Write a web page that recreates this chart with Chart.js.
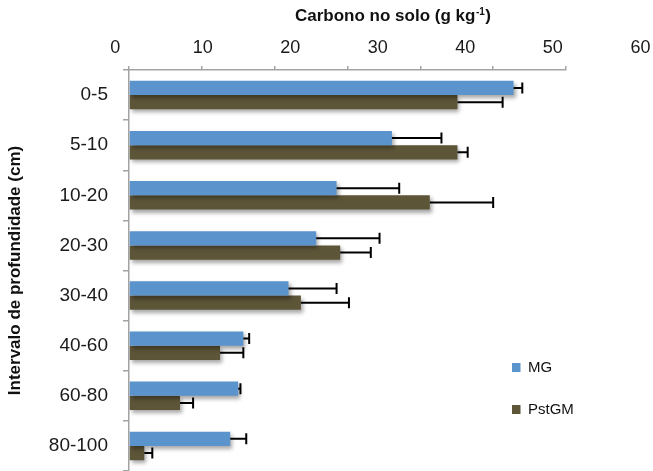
<!DOCTYPE html>
<html>
<head>
<meta charset="utf-8">
<script src="https://cdn.jsdelivr.net/npm/chart.js@4.4.0/dist/chart.umd.min.js"></script>
<style>
  html, body { margin: 0; padding: 0; background: #fff; }
  canvas { display: block; }
</style>
</head>
<body>
<canvas id="c" width="653" height="471"></canvas>
<script>
// depth intervals (cm) and soil carbon (g/kg)
var depths = ['0-5', '5-10', '10-20', '20-30', '30-40', '40-60', '60-80', '80-100'];
var mgValues = [52.8, 36.1, 28.5, 25.7, 21.9, 15.7, 15.0, 13.9];
var mgErrors = [1.2, 6.8, 8.6, 8.7, 6.6, 0.8, 0.3, 2.2];
var pstValues = [45.1, 45.1, 41.3, 29.0, 23.6, 12.5, 7.0, 2.1];
var pstErrors = [6.2, 1.4, 8.7, 4.2, 6.6, 3.2, 1.8, 1.1];
var tickLabels = [0, 10, 20, 30, 40, 50, 60];

var AXIS_GREY = '#a3a3a3';
var FONT = '"Liberation Sans", Arial, sans-serif';

Chart.defaults.font.family = FONT;
Chart.defaults.color = '#1a1a1a';

/* bars get the soft excel drop shadow, then one sided error bars on top */
var errorBars = {
  id: 'errorBars',
  beforeDatasetsDraw: function(chart) {
    var ctx = chart.ctx;
    ctx.save();
    ctx.shadowColor = 'rgba(0,0,0,0.35)';
    ctx.shadowBlur = 4;
    ctx.shadowOffsetX = 2;
    ctx.shadowOffsetY = 3;
  },
  afterDatasetsDraw: function(chart) {
    var ctx = chart.ctx;
    ctx.restore();
    var xs = chart.scales.x;
    ctx.save();
    ctx.strokeStyle = '#000';
    ctx.lineWidth = 2;
    chart.data.datasets.forEach(function(ds, i) {
      var meta = chart.getDatasetMeta(i);
      meta.data.forEach(function(bar, j) {
        var x0 = bar.x;
        var x1 = xs.getPixelForValue(ds.data[j] + ds.errors[j]);
        ctx.beginPath();
        ctx.moveTo(x0, bar.y);
        ctx.lineTo(x1, bar.y);
        ctx.moveTo(x1, bar.y - 5.5);
        ctx.lineTo(x1, bar.y + 5.5);
        ctx.stroke();
      });
    });
    ctx.restore();
  }
};

/* axis title with the superscript + legend placed inside the plot */
var extras = {
  id: 'extras',
  afterDraw: function(chart) {
    var ctx = chart.ctx;
    ctx.save();
    ctx.fillStyle = '#111';
    ctx.textBaseline = 'alphabetic';
    ctx.textAlign = 'left';
    var x = 295, y = 20.5;
    ctx.font = 'bold 17px ' + FONT;
    var t1 = 'Carbono no solo (g kg';
    ctx.fillText(t1, x, y);
    x += ctx.measureText(t1).width + 0.5;
    ctx.font = 'bold 10px ' + FONT;
    ctx.fillText('-1', x, y - 6);
    x += ctx.measureText('-1').width + 0.5;
    ctx.font = 'bold 17px ' + FONT;
    ctx.fillText(')', x, y);

    // legend
    ctx.font = '15px ' + FONT;
    ctx.textBaseline = 'middle';
    chart.data.datasets.forEach(function(ds, i) {
      var cy = 367.5 + i * 42;
      ctx.fillStyle = ds.backgroundColor;
      ctx.fillRect(512, cy - 4.5, 8.5, 9);
      ctx.fillStyle = '#111';
      ctx.fillText(ds.label, 528, cy);
    });
    ctx.restore();
  }
};

function noEdgePadding(s) {
  s.paddingLeft = 0; s.paddingRight = 0;
  s.paddingTop = 0; s.paddingBottom = 0;
}

new Chart(document.getElementById('c'), {
  type: 'bar',
  data: {
    labels: depths,
    datasets: [
      { label: 'MG', data: mgValues, errors: mgErrors, backgroundColor: '#5b93cd' },
      { label: 'PstGM', data: pstValues, errors: pstErrors, backgroundColor: '#5d5538' }
    ]
  },
  options: {
    indexAxis: 'y',
    responsive: false,
    animation: false,
    devicePixelRatio: 1,
    categoryPercentage: 0.57,
    barPercentage: 1.0,
    layout: { padding: { top: 22, right: 87, left: 0, bottom: 0 } },
    plugins: {
      legend: { display: false },
      tooltip: { enabled: false }
    },
    scales: {
      x: {
        type: 'linear',
        position: 'top',
        weight: 0,
        min: 0,
        max: 60,
        ticks: { stepSize: 10, display: false },
        grid: { drawOnChartArea: false, drawTicks: true, tickLength: 4, color: AXIS_GREY, lineWidth: 1.5 },
        border: { color: AXIS_GREY, width: 1.5 },
        afterFit: function(s) { s.height = 4; noEdgePadding(s); }
      },
      // the printed numbers are spread wider than the tick marks in the original,
      // so they sit on their own scale (0 a bit left of the axis, 60 past its end)
      x2: {
        type: 'linear',
        position: 'top',
        weight: 1,
        min: 1.57,
        max: 51.5,
        grid: { display: false, drawTicks: false },
        border: { display: false },
        ticks: { autoSkip: false, padding: 7, color: '#1a1a1a', font: { size: 18 } },
        afterBuildTicks: function(s) {
          s.ticks = tickLabels.map(function(v) { return { value: v }; });
        },
        afterFit: function(s) { s.height = 44; noEdgePadding(s); }
      },
      y: {
        type: 'category',
        position: 'left',
        grid: { drawOnChartArea: false, drawTicks: true, tickLength: 6, color: AXIS_GREY, lineWidth: 1.5, offset: true },
        border: { color: AXIS_GREY, width: 1.5 },
        ticks: { padding: 15, color: '#1a1a1a', font: { size: 19 } },
        title: {
          display: true,
          text: 'Intervalo de profundidade (cm)',
          color: '#111',
          font: { size: 17, weight: 'bold' },
          padding: { top: 5, bottom: 0 }
        },
        afterFit: function(s) { s.width = 129; noEdgePadding(s); }
      }
    }
  },
  plugins: [errorBars, extras]
});
</script>
</body>
</html>
